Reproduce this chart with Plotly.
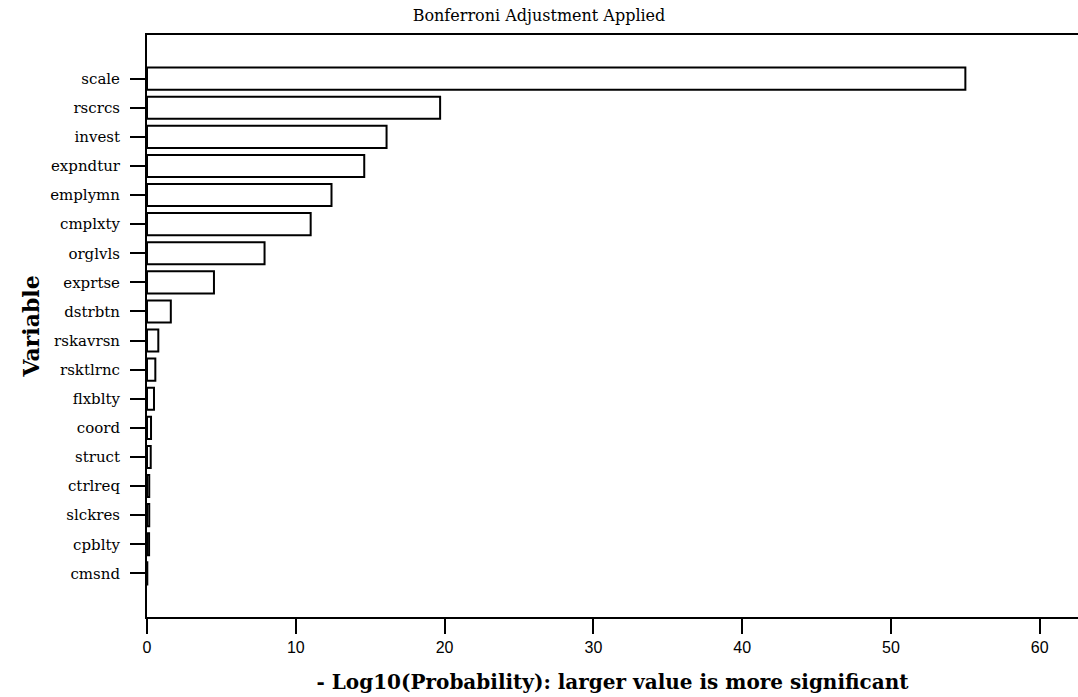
import plotly.graph_objects as go

variables = ["scale", "rscrcs", "invest", "expndtur", "emplymn", "cmplxty", "orglvls",
             "exprtse", "dstrbtn", "rskavrsn", "rsktlrnc", "flxblty", "coord", "struct",
             "ctrlreq", "slckres", "cpblty", "cmsnd"]
neg_log10_p = [55.0, 19.7, 16.1, 14.6, 12.4, 11.0, 7.9, 4.5, 1.6, 0.76, 0.56, 0.47,
               0.27, 0.25, 0.15, 0.15, 0.14, 0.02]
x_ticks = [0, 10, 20, 30, 40, 50, 60]

fig = go.Figure(go.Bar(
    x=neg_log10_p, y=variables, orientation="h",
    width=0.76,
    marker=dict(color="white", line=dict(color="black", width=2)),
))

n = len(variables)
fig.update_layout(
    width=1078, height=697,
    margin=dict(l=147, r=0, t=35, b=80),
    paper_bgcolor="white", plot_bgcolor="white",
    showlegend=False,
    title=dict(text="Bonferroni Adjustment Applied", x=0.5, xref="container", xanchor="center",
               y=1 - 15 / 697, yref="container", yanchor="middle",
               font=dict(family="DejaVu Serif", size=16, color="black")),
    xaxis=dict(
        range=[0, 62.57], tickvals=x_ticks, ticktext=[str(v) for v in x_ticks],
        showline=True, linecolor="black", linewidth=2, mirror=True,
        ticks="outside", ticklen=15, tickwidth=2, tickcolor="black",
        showgrid=False, zeroline=False,
        tickfont=dict(family="Liberation Sans", size=16, color="black"),
        title=dict(text="<b>- Log10(Probability): larger value is more significant</b>",
                   font=dict(family="DejaVu Serif", size=20, color="black"), standoff=20),
    ),
    yaxis=dict(
        type="category", categoryorder="array", categoryarray=variables,
        range=[n - 1 + 1.5, -1.5],
        showline=True, linecolor="black", linewidth=2,
        ticks="outside", ticklen=15, tickwidth=2, tickcolor="black",
        ticklabelstandoff=7,
        showgrid=False, zeroline=False,
        tickfont=dict(family="DejaVu Serif", size=15, color="black"),
        title=dict(text="<b>Variable</b>",
                   font=dict(family="DejaVu Serif", size=22, color="black"), standoff=4),
    ),
)

fig.write_html("out.html")
